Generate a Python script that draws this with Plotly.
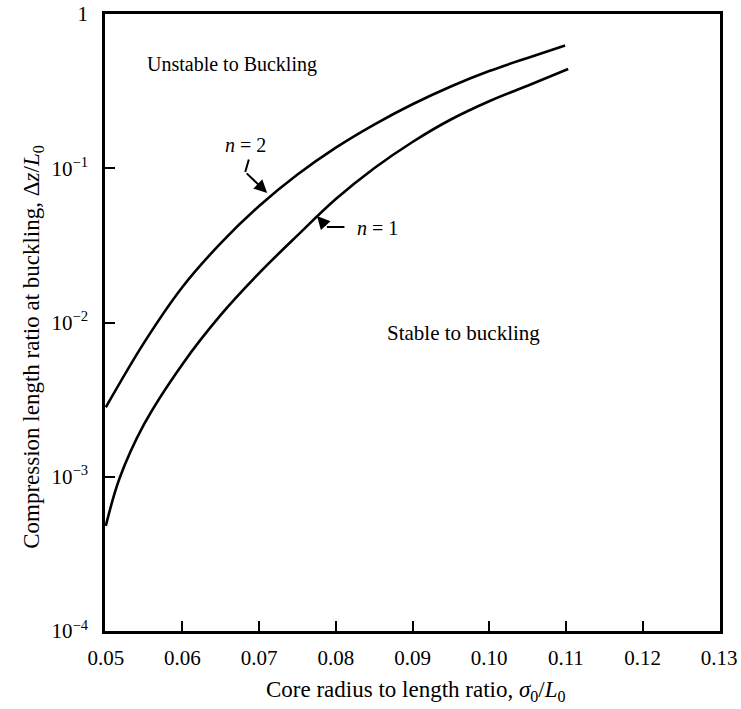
import numpy as np
import plotly.graph_objects as go

# ---- data ----
x_n2 = [0.0500, 0.0550, 0.0600, 0.0650, 0.0700, 0.0750, 0.0800, 0.0850,
        0.0900, 0.0950, 0.1000, 0.1050, 0.1099]
y_n2 = [2.82e-3, 7.41e-3, 1.70e-2, 3.27e-2, 5.69e-2, 9.10e-2, 0.136, 0.192,
        0.260, 0.339, 0.427, 0.519, 0.624]

x_n1 = [0.0500, 0.0518, 0.0550, 0.0600, 0.0650, 0.0700, 0.0750, 0.0800,
        0.0850, 0.0900, 0.0950, 0.1000, 0.1050, 0.1103]
y_n1 = [4.79e-4, 9.77e-4, 2.19e-3, 5.37e-3, 1.12e-2, 2.09e-2, 3.67e-2, 6.31e-2,
        0.100, 0.148, 0.207, 0.272, 0.343, 0.44]

x_ticks = [0.05, 0.06, 0.07, 0.08, 0.09, 0.10, 0.11, 0.12, 0.13]
x_ticklabels = ["0.05", "0.06", "0.07", "0.08", "0.09", "0.10", "0.11", "0.12", "0.13"]
y_ticks = [1e-4, 1e-3, 1e-2, 1e-1, 1]
y_ticklabels = ["10<sup>−4</sup>", "10<sup>−3</sup>", "10<sup>−2</sup>", "10<sup>−1</sup>", "1"]

FONT = "Liberation Serif, Times New Roman, serif"

fig = go.Figure()
for xs, ys in [(x_n2, y_n2), (x_n1, y_n1)]:
    fig.add_trace(go.Scatter(x=xs, y=ys, mode="lines",
                             line=dict(color="black", width=2.6, shape="spline", smoothing=1.0),
                             hoverinfo="skip", showlegend=False))

L = np.log10
txt = dict(size=20, family=FONT, color="black")
annotations = [
    dict(x=0.0664, y=L(0.474), text="Unstable to Buckling", showarrow=False, font=txt),
    dict(x=0.0966, y=L(0.00855), text="Stable to buckling", showarrow=False,
         font=dict(size=21, family=FONT, color="black")),
    dict(x=0.0682, y=L(0.1416), text="<i>n</i> = 2", showarrow=False, font=txt),
    dict(x=0.0825, y=L(0.041), text="<i>n</i> = 1", showarrow=False, xanchor="left", font=txt),
    # n = 2 pointer
    dict(x=0.07105, y=-1.160, text="", showarrow=True, ax=-22, ay=-21,
         arrowhead=2, arrowsize=1.3, arrowwidth=2, arrowcolor="black", standoff=0),
    dict(x=0.06819, y=-1.024, text="", showarrow=True, ax=4, ay=-14,
         arrowhead=0, arrowwidth=2, arrowcolor="black", standoff=0),
    # n = 1 pointer
    dict(x=0.07754, y=-1.310, text="", showarrow=True, ax=10, ay=11,
         arrowhead=2, arrowsize=1.3, arrowwidth=2, arrowcolor="black", standoff=0),
    dict(x=0.07884, y=-1.381, text="", showarrow=True, ax=19, ay=0,
         arrowhead=0, arrowwidth=2, arrowcolor="black", standoff=0),
    # axis titles
    dict(x=0.505, y=-0.072, xref="paper", yref="paper", yanchor="top", showarrow=False,
         text="Core radius to length ratio, <i>σ</i><sub>0</sub>/<i>L</i><sub>0</sub>",
         font=dict(size=23, family=FONT, color="black")),
    dict(x=-0.142, y=0.46, xref="paper", yref="paper", showarrow=False, textangle=-90,
         text="Compression length ratio at buckling, Δ<i>z</i>/<i>L</i><sub>0</sub>",
         font=dict(size=23, family=FONT, color="black")),
]

fig.update_layout(
    width=741, height=709,
    margin=dict(l=105, r=21, t=14, b=78, autoexpand=False),
    paper_bgcolor="white", plot_bgcolor="white",
    font=dict(family=FONT, size=21, color="black"),
    annotations=annotations,
    xaxis=dict(range=[0.0499, 0.1301], tickvals=x_ticks, ticktext=x_ticklabels,
               ticks="inside", ticklen=10, tickwidth=2, tickcolor="black",
               tickfont=dict(size=21, family=FONT, color="black"), automargin=False,
               showline=True, linewidth=2.5, linecolor="black", mirror=True,
               showgrid=False, zeroline=False, ticklabelstandoff=6),
    yaxis=dict(type="log", range=[-4, 0], tickvals=y_ticks, ticktext=y_ticklabels,
               ticks="inside", ticklen=10, tickwidth=2, tickcolor="black",
               tickfont=dict(size=21, family=FONT, color="black"), automargin=False,
               showline=True, linewidth=2.5, linecolor="black", mirror=True,
               showgrid=False, zeroline=False, ticklabelstandoff=10),
)

fig.write_html("out.html")
